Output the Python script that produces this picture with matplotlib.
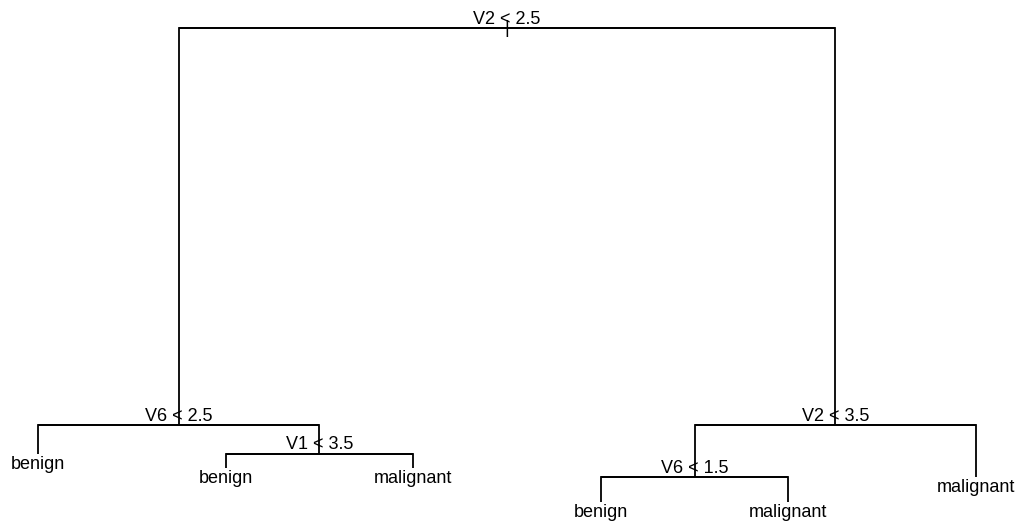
import matplotlib
matplotlib.use("Agg")
import matplotlib.pyplot as plt
import numpy as np

plt.rcParams['font.family'] = ['Liberation Sans', 'DejaVu Sans']

# tree frame (R tree-style node numbering), deviance per node, split / leaf label
node_ids = [1, 2, 3, 4, 5, 6, 7, 10, 11, 12, 13]
node_dev = [884.3, 102.1, 201.8, 20.0, 41.2, 95.9, 30.0, 8.0, 12.0, 35.0, 25.1]
node_var = ["V2", "V6", "V2", "<leaf>", "V1", "V6", "<leaf>", "<leaf>", "<leaf>", "<leaf>", "<leaf>"]
node_cut = [2.5, 2.5, 3.5, None, 3.5, 1.5, None, None, None, None, None]
node_yval = ["benign", "benign", "malignant", "benign", "benign", "benign",
             "malignant", "benign", "malignant", "benign", "malignant"]

# %%
idx = {n: i for i, n in enumerate(node_ids)}
n = len(node_ids)
leaves = np.array([v == "<leaf>" for v in node_var])
depth = np.array([int(np.floor(np.log2(k))) for k in node_ids])

# y: proportional to deviance (same recursion as tree:::treeco)
y = np.array(node_dev, dtype=float)
for d in range(1, depth.max() + 1):
    for i in np.where(depth == d)[0]:
        k = node_ids[i]
        p = idx[k // 2]
        s = idx[k + 1 if k % 2 == 0 else k - 1]
        y[i] = y[p] - node_dev[p] + node_dev[i] + node_dev[s]

# x: leaves in order 1..n, internal nodes = mean of children
x = np.zeros(n)
order = sorted(range(n), key=lambda i: [int(b) for b in bin(node_ids[i])[3:]] + [0.5])
leaf_order = [i for i in order if leaves[i]]
for j, i in enumerate(leaf_order):
    x[i] = j + 1
for d in range(depth.max(), -1, -1):
    for i in np.where((depth == d) & ~leaves)[0]:
        k = node_ids[i]
        x[i] = 0.5 * (x[idx[2 * k]] + x[idx[2 * k + 1]])

# %%
fig = plt.figure(figsize=(10.2, 5.23), dpi=100)
ax = fig.add_axes([0, 0, 1, 1])
ax.set_axis_off()

for i in range(1, n):
    k = node_ids[i]
    p = idx[k // 2]
    s = idx[k + 1 if k % 2 == 0 else k - 1]
    ax.plot([x[i], x[i], x[s]], [y[i], y[p], y[p]], color='black', lw=1.3,
            solid_capstyle='butt', solid_joinstyle='miter')

fs = 13
ax.annotate("|", (x[0], y[0]), xytext=(0, -3.3), textcoords='offset points',
            ha='center', va='baseline', fontsize=fs)
for i in range(n):
    if leaves[i]:
        ax.annotate(node_yval[i], (x[i], y[i]), xytext=(0, -10.8), textcoords='offset points',
                    ha='center', va='baseline', fontsize=fs)
    else:
        ax.annotate(f"{node_var[i]} < {node_cut[i]}", (x[i], y[i]), xytext=(0, 2.9),
                    textcoords='offset points', ha='center', va='baseline', fontsize=fs)

px = (6 - 1) / (976 - 38)
ax.set_xlim(1 - 38 * px, 6 + (1020 - 976) * px)
py = (y.max() - y.min()) / (502 - 28)
ax.set_ylim(y.min() - 21 * py, y.max() + 28 * py)

fig.savefig("out.png", dpi=100)
